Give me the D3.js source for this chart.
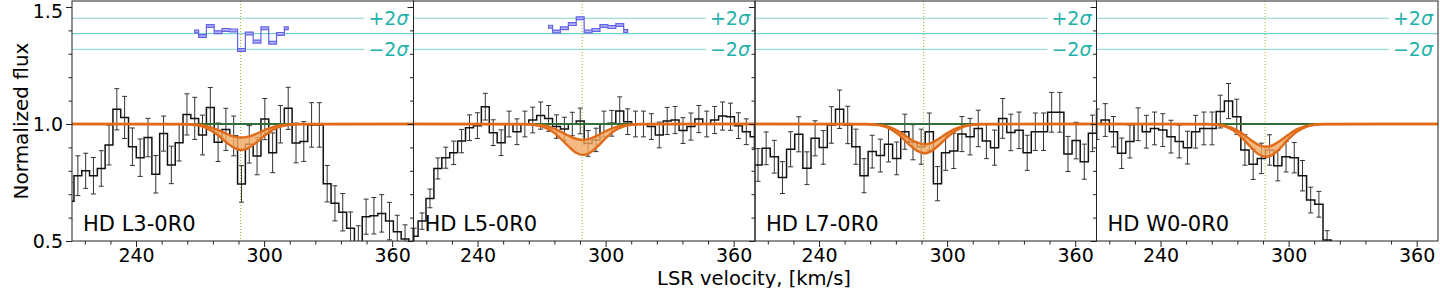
<!DOCTYPE html>
<html><head><meta charset="utf-8">
<script src="https://cdn.jsdelivr.net/npm/d3@7"></script>
<style>
body{margin:0;background:#fff}
svg{display:block}
text{font-family:"DejaVu Sans",sans-serif}
</style>
</head><body>
<svg id="chart" width="1440" height="288"></svg>
<script>
// ---------------- data ----------------
const panelNames = ["HD L3-0R0", "HD L5-0R0", "HD L7-0R0", "HD W0-0R0"];
// centre of the first bin and bin width (km/s) of every panel
const binFirstCenter = [209.1, 210.3, 211.4, 210.25];
const binWidth = [3.65, 3.705, 3.822, 3.85];

const fluxL3 = [0.67, 0.779, 0.80, 0.779, 0.81, 0.91, 1.063, 1.028, 0.903, 0.856, 0.942, 0.785, 0.959, 0.825, 0.92, 1.041, 1.024, 0.953, 1.07, 0.922, 0.977, 0.949, 0.744, 0.913, 0.863, 1.021, 0.877, 0.999, 1.067, 0.919, 0.925, 0.996, 0.996, 0.745, 0.661, 0.623, 0.554, 0.495, 0.604, 0.608, 0.618, 0.585, 0.54, 0.509, 0.495];
const errL3 = [0.08, 0.085, 0.075, 0.078, 0.076, 0.085, 0.088, 0.09, 0.08, 0.08, 0.082, 0.08, 0.075, 0.08, 0.078, 0.088, 0.09, 0.085, 0.086, 0.082, 0.09, 0.085, 0.078, 0.08, 0.08, 0.088, 0.085, 0.08, 0.09, 0.085, 0.085, 0.095, 0.095, 0.078, 0.075, 0.08, 0.07, 0.07, 0.075, 0.078, 0.08, 0.08, 0.07, 0.06, 0.06];

const fluxL5 = [0.52, 0.585, 0.682, 0.81, 0.856, 0.877, 0.927, 0.984, 0.993, 1.074, 0.963, 0.92, 1.0, 0.967, 1.0, 1.017, 1.036, 1.024, 0.989, 0.979, 1.0, 1.013, 0.917, 0.932, 1.0, 1.003, 1.056, 1.01, 1.0, 1.0, 0.989, 0.953, 1.013, 1.017, 0.972, 0.989, 1.021, 1.0, 1.017, 1.034, 1.031, 0.993, 0.967, 0.946];
const errL5 = [0.035, 0.035, 0.04, 0.045, 0.045, 0.05, 0.05, 0.055, 0.055, 0.057, 0.055, 0.055, 0.055, 0.055, 0.055, 0.055, 0.058, 0.055, 0.05, 0.05, 0.05, 0.055, 0.055, 0.05, 0.055, 0.055, 0.06, 0.055, 0.055, 0.055, 0.055, 0.055, 0.058, 0.058, 0.055, 0.058, 0.058, 0.055, 0.058, 0.06, 0.058, 0.055, 0.055, 0.055];

const fluxL7 = [0.825, 0.896, 0.86, 0.771, 0.892, 0.956, 0.811, 0.939, 0.90, 0.996, 1.063, 0.996, 0.903, 0.779, 0.882, 0.865, 0.913, 0.853, 0.967, 0.922, 0.903, 0.967, 0.745, 0.877, 0.885, 0.957, 0.946, 0.981, 0.927, 0.899, 1.024, 0.964, 0.973, 0.877, 0.967, 0.967, 1.05, 1.05, 0.872, 0.929, 0.839, 0.96, 1.06];
const errL7 = [0.07, 0.07, 0.07, 0.068, 0.075, 0.075, 0.07, 0.075, 0.072, 0.078, 0.082, 0.08, 0.075, 0.073, 0.07, 0.07, 0.075, 0.07, 0.075, 0.075, 0.075, 0.08, 0.073, 0.075, 0.075, 0.075, 0.078, 0.078, 0.075, 0.075, 0.085, 0.078, 0.078, 0.075, 0.08, 0.08, 0.085, 0.085, 0.075, 0.078, 0.075, 0.078, 0.08];

const fluxW0 = [0.999, 1.017, 0.967, 0.875, 0.925, 0.999, 0.967, 0.981, 0.974, 0.946, 0.925, 0.899, 0.967, 0.981, 0.981, 1.053, 1.098, 1.031, 0.889, 0.828, 0.853, 0.889, 0.822, 0.86, 0.856, 0.779, 0.675, 0.657, 0.504, 0.43];
const errW0 = [0.065, 0.07, 0.065, 0.065, 0.07, 0.07, 0.07, 0.07, 0.07, 0.07, 0.07, 0.07, 0.07, 0.07, 0.07, 0.07, 0.075, 0.075, 0.065, 0.065, 0.065, 0.065, 0.065, 0.065, 0.065, 0.065, 0.055, 0.055, 0.04, 0.04];

// model absorption band (lower / upper edge) sampled in velocity
const modelV = [210, 262, 266, 270, 274, 278, 282, 286, 289.4, 292, 296, 300, 304, 308, 312, 316, 370];
const modelLowL3 = [1, 0.999, 0.997, 0.992, 0.978, 0.955, 0.924, 0.898, 0.889, 0.894, 0.918, 0.949, 0.975, 0.990, 0.997, 0.999, 1];
const modelUpL3  = [1, 1.0, 0.999, 0.996, 0.989, 0.976, 0.960, 0.946, 0.942, 0.945, 0.957, 0.973, 0.987, 0.995, 0.998, 1.0, 1];
const modelLowL5 = [1, 0.999, 0.997, 0.990, 0.974, 0.946, 0.910, 0.878, 0.868, 0.874, 0.902, 0.939, 0.970, 0.988, 0.996, 0.999, 1];
const modelUpL5  = [1, 1.0, 0.998, 0.995, 0.987, 0.972, 0.953, 0.937, 0.932, 0.935, 0.950, 0.969, 0.984, 0.994, 0.998, 1.0, 1];
const modelLowL7 = [1, 0.999, 0.997, 0.991, 0.976, 0.949, 0.914, 0.885, 0.875, 0.881, 0.908, 0.943, 0.971, 0.989, 0.996, 0.999, 1];
const modelUpL7  = [1, 1.0, 0.998, 0.994, 0.983, 0.965, 0.940, 0.920, 0.913, 0.917, 0.936, 0.960, 0.980, 0.992, 0.997, 1.0, 1];
const modelLowW0 = [1, 0.999, 0.997, 0.990, 0.973, 0.943, 0.904, 0.871, 0.860, 0.866, 0.896, 0.936, 0.968, 0.987, 0.996, 0.999, 1];
const modelUpW0  = [1, 1.0, 0.998, 0.993, 0.981, 0.961, 0.934, 0.910, 0.903, 0.907, 0.928, 0.955, 0.978, 0.991, 0.997, 1.0, 1];

// residuals (offset to the residual zero level), first bin index into the flux grid
const residL3 = [1.395, 1.376, 1.419, 1.392, 1.402, 1.40, 1.316, 1.387, 1.352, 1.409, 1.347, 1.385, 1.409];
const residL5 = [1.416, 1.395, 1.409, 1.427, 1.452, 1.395, 1.402, 1.419, 1.414, 1.423, 1.397];
const residFirstBin = [16, 17, null, null];

const residZero = 1.386, residPlus = 1.452, residMinus = 1.319;
const lineCenter = 289;

const xMajorTicks = [240, 300, 360];
const xMinorTicks = [216, 228, 252, 264, 276, 288, 312, 324, 336, 348];
const yMajorTicks = [0.5, 1.0, 1.5];
const yMinorTicks = [0.6, 0.7, 0.8, 0.9, 1.1, 1.2, 1.3, 1.4];
const xDomain = [210, 370];
const yDomain = [0.5, 1.5256];

const fluxes = [fluxL3, fluxL5, fluxL7, fluxW0];
const errs = [errL3, errL5, errL7, errW0];
const modelLow = [modelLowL3, modelLowL5, modelLowL7, modelLowW0];
const modelUp = [modelUpL3, modelUpL5, modelUpL7, modelUpW0];
const resids = [residL3, residL5, null, null];

// ---------------- drawing ----------------
const svg = d3.select("#chart");
const W = 341.5, plotTop = 1, plotBottom = 241;
const x0s = [72, 413.5, 755, 1096.5];
const y = d3.scaleLinear().domain(yDomain).range([plotBottom, plotTop]);

const ORANGE = "#e06c1a", FILL = "#f2a962", GREEN = "#2f6e35", TEAL = "#20b2aa", BLUE = "#6262e6";

const defs = svg.append("defs");

x0s.forEach((x0, p) => {
  const x = d3.scaleLinear().domain(xDomain).range([x0, x0 + W]);
  const cid = "clip" + p;
  defs.append("clipPath").attr("id", cid).append("rect")
    .attr("x", x0).attr("y", plotTop).attr("width", W).attr("height", plotBottom - plotTop);
  const g = svg.append("g");
  const pg = g.append("g").attr("clip-path", `url(#${cid})`);

  // residual reference lines
  [residPlus, residZero, residMinus].forEach((lv, i) => {
    pg.append("line").attr("x1", x0).attr("x2", x0 + W)
      .attr("y1", y(lv)).attr("y2", y(lv))
      .attr("stroke", TEAL).attr("stroke-width", 1)
      .attr("stroke-opacity", i === 1 ? 0.75 : 0.55);
  });
  // sigma labels with white boxes
  [["+", residPlus], ["\u2212", residMinus]].forEach(([s, lv]) => {
    const lg = pg.append("g");
    const rect = lg.append("rect").attr("fill", "#fff");
    const t = lg.append("text").attr("x", x0 + W - 5).attr("y", y(lv) + 7)
      .attr("text-anchor", "end").attr("fill", TEAL).style("font-size", "19px");
    t.append("tspan").text(s + "2");
    t.append("tspan").attr("font-style", "italic").text("\u03c3");
    const bb = t.node().getBBox();
    rect.attr("x", bb.x - 4).attr("y", bb.y + 2).attr("width", bb.width + 8).attr("height", bb.height - 4);
  });

  // vertical line at the component velocity
  pg.append("line").attr("x1", x(lineCenter)).attr("x2", x(lineCenter))
    .attr("y1", plotTop).attr("y2", plotBottom)
    .attr("stroke", "#aeb02a").attr("stroke-width", 1).attr("stroke-dasharray", "1,2");

  // data
  const vel = fluxes[p].map((_, i) => binFirstCenter[p] + i * binWidth[p]);
  const pts = fluxes[p].map((f, i) => ({v: vel[i], f, e: errs[p][i]}));
  const eg = pg.append("g").attr("stroke", "#333").attr("stroke-width", 1);
  pts.forEach(d => {
    const xc = x(d.v);
    eg.append("line").attr("x1", xc).attr("x2", xc).attr("y1", y(d.f - d.e)).attr("y2", y(d.f + d.e));
    eg.append("line").attr("x1", xc - 2.5).attr("x2", xc + 2.5).attr("y1", y(d.f + d.e)).attr("y2", y(d.f + d.e));
    eg.append("line").attr("x1", xc - 2.5).attr("x2", xc + 2.5).attr("y1", y(d.f - d.e)).attr("y2", y(d.f - d.e));
  });
  const hw = binWidth[p] / 2;
  const stepPts = [{v: pts[0].v - hw, f: pts[0].f}, ...pts, {v: pts[pts.length - 1].v + hw, f: pts[pts.length - 1].f}];
  pg.append("path").datum(stepPts)
    .attr("d", d3.line().x(d => x(d.v)).y(d => y(d.f)).curve(d3.curveStep))
    .attr("fill", "none").attr("stroke", "#111").attr("stroke-width", 1.5);

  // continuum
  pg.append("line").attr("x1", x0).attr("x2", x0 + W).attr("y1", y(1)).attr("y2", y(1))
    .attr("stroke", GREEN).attr("stroke-width", 2);

  // model band
  const mp = modelV.map((v, i) => ({v, lo: modelLow[p][i], up: modelUp[p][i]}));
  pg.append("path").datum(mp)
    .attr("d", d3.area().x(d => x(d.v)).y0(d => y(d.lo)).y1(d => y(d.up)).curve(d3.curveMonotoneX))
    .attr("fill", FILL).attr("fill-opacity", 0.8);
  ["lo", "up"].forEach(k => {
    pg.append("path").datum(mp)
      .attr("d", d3.line().x(d => x(d.v)).y(d => y(d[k])).curve(d3.curveMonotoneX))
      .attr("fill", "none").attr("stroke", ORANGE).attr("stroke-width", 2.4);
  });

  // residuals
  if (resids[p]) {
    const rp = resids[p].map((r, i) => ({v: vel[residFirstBin[p] + i], r}));
    pg.append("path").datum(rp)
      .attr("d", d3.area().x(d => x(d.v)).y0(d => y(d.r - 0.006)).y1(d => y(d.r + 0.006)).curve(d3.curveStep))
      .attr("fill", "#b3b3f4").attr("stroke", BLUE).attr("stroke-width", 1.2);
  }

  // panel label
  g.append("text").attr("x", x0 + 11).attr("y", 231)
    .style("font-size", "21px").attr("fill", "#000").text(panelNames[p]);

  // axes
  const xa = g.append("g").attr("transform", `translate(0,${plotBottom})`);
  xa.call(d3.axisBottom(x).tickValues(xMajorTicks).tickSize(6).tickPadding(2).tickSizeOuter(0).tickFormat(d3.format("d")));
  xa.append("g").call(d3.axisBottom(x).tickValues(xMinorTicks).tickSize(3.5).tickSizeOuter(0).tickFormat(""));
  const ya = g.append("g").attr("transform", `translate(${x0},0)`);
  ya.call(d3.axisLeft(y).tickValues(yMajorTicks).tickSize(6).tickPadding(3).tickSizeOuter(0)
    .tickFormat(p === 0 ? d3.format(".1f") : ""));
  ya.append("g").call(d3.axisLeft(y).tickValues(yMinorTicks).tickSize(3.5).tickSizeOuter(0).tickFormat(""));
  g.selectAll(".domain").remove();
  g.selectAll(".tick line").attr("stroke", "#222");
  g.selectAll(".tick text").style("font-size", "19px").style("font-family", "DejaVu Sans").attr("fill", "#000");

  // spines
  g.append("rect").attr("x", x0).attr("y", plotTop).attr("width", W).attr("height", plotBottom - plotTop)
    .attr("fill", "none").attr("stroke", "#222").attr("stroke-width", 1);
});

// keep the top tick label inside the picture
svg.selectAll(".tick text").filter(d => d === 1.5).attr("dy", "0.55em");

// axis titles
svg.append("text").attr("x", 754).attr("y", 284.5).attr("text-anchor", "middle")
  .style("font-size", "19.5px").text("LSR velocity, [km/s]");
svg.append("text").attr("transform", "translate(28,121) rotate(-90)").attr("text-anchor", "middle")
  .style("font-size", "20px").text("Normalized flux");
</script>
</body></html>
